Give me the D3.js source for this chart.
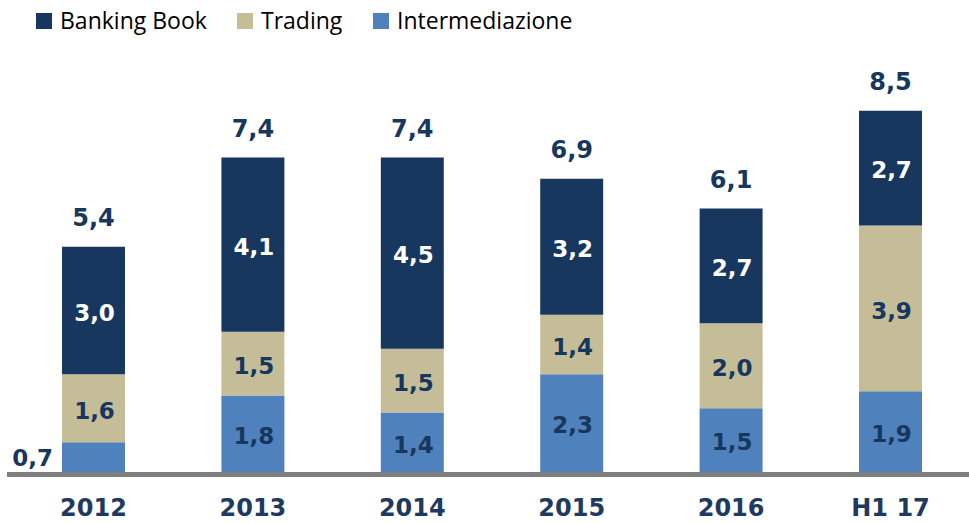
<!DOCTYPE html>
<html>
<head>
<meta charset="utf-8">
<script src="https://cdn.jsdelivr.net/npm/d3@7"></script>
<style>
  html, body { margin: 0; padding: 0; background: #fff; }
  svg { display: block; }
</style>
</head>
<body>
<svg id="chart" width="969" height="523"></svg>
<script>
// Revenue composition by year (stacked), values in the labels' units
const categories = ["2012", "2013", "2014", "2015", "2016", "H1 17"];
const intermediazione = [0.7, 1.8, 1.4, 2.3, 1.5, 1.9];
const trading = [1.6, 1.5, 1.5, 1.4, 2.0, 3.9];
const bankingBook = [3.0, 4.1, 4.5, 3.2, 2.7, 2.7];
const totals = [5.4, 7.4, 7.4, 6.9, 6.1, 8.5];

const seriesNames = ["Intermediazione", "Trading", "Banking Book"];
const seriesColors = { "Intermediazione": "#4F81BD", "Trading": "#C4BD97", "Banking Book": "#17375E" };
const labelColors = { "Intermediazione": "#17375E", "Trading": "#17375E", "Banking Book": "#FFFFFF" };
const legendOrder = ["Banking Book", "Trading", "Intermediazione"];

const fmt = v => d3.format(".1f")(v).replace(".", ",");

const rows = categories.map((c, i) => ({
  cat: c,
  "Intermediazione": intermediazione[i],
  "Trading": trading[i],
  "Banking Book": bankingBook[i],
  total: totals[i]
}));

const svg = d3.select("#chart");
const baseY = 472;

const x = d3.scaleBand()
  .domain(categories)
  .range([13.8, 970.2])
  .paddingInner(0.605)
  .paddingOuter(0.3025);

const y = d3.scaleLinear().domain([0, 10]).range([baseY, baseY - 425]);

const stacked = d3.stack().keys(seriesNames)(rows);

// Bars
const layers = svg.append("g").selectAll("g")
  .data(stacked)
  .join("g")
  .attr("fill", d => seriesColors[d.key]);

layers.selectAll("rect")
  .data(d => d.map(p => ({ key: d.key, p })))
  .join("rect")
  .attr("x", d => x(d.p.data.cat))
  .attr("width", x.bandwidth())
  .attr("y", d => y(d.p[1]))
  .attr("height", d => y(d.p[0]) - y(d.p[1]));

// Segment labels
const labelFont = "'DejaVu Sans', Verdana, sans-serif";
const segLabels = svg.append("g")
  .attr("font-family", labelFont)
  .attr("font-weight", "bold")
  .attr("font-size", 23);

stacked.forEach(layer => {
  layer.forEach(p => {
    const v = p.data[layer.key];
    const top = y(p[1]), bot = y(p[0]);
    const small = (bot - top) < 40;
    const t = segLabels.append("text")
      .text(fmt(v))
      .attr("fill", small ? "#17375E" : labelColors[layer.key])
      .attr("dy", "0.36em");
    if (small) {
      t.attr("x", x(p.data.cat) - 9)
        .attr("y", (top + bot) / 2 + 1)
        .attr("text-anchor", "end");
    } else {
      t.attr("x", x(p.data.cat) + x.bandwidth() / 2 + 1)
        .attr("y", (top + bot) / 2 + 2)
        .attr("text-anchor", "middle");
    }
  });
});

// Totals above bars
svg.append("g")
  .attr("font-family", labelFont)
  .attr("font-weight", "bold")
  .attr("font-size", 24)
  .attr("fill", "#17375E")
  .selectAll("text")
  .data(rows)
  .join("text")
  .attr("x", d => x(d.cat) + x.bandwidth() / 2)
  .attr("y", d => y(d["Intermediazione"] + d["Trading"] + d["Banking Book"]) - 21)
  .attr("text-anchor", "middle")
  .text(d => fmt(d.total));

// Baseline
svg.append("line")
  .attr("x1", 7).attr("x2", 969)
  .attr("y1", baseY + 2.5).attr("y2", baseY + 2.5)
  .attr("stroke", "#7F7F7F")
  .attr("stroke-width", 5);

// Category axis labels
const xAxis = d3.axisBottom(x).tickSize(0).tickPadding(0);
const axisG = svg.append("g")
  .attr("transform", `translate(0,${baseY})`)
  .call(xAxis);
axisG.select(".domain").remove();
axisG.selectAll("text")
  .attr("font-family", labelFont)
  .attr("font-weight", "bold")
  .attr("font-size", 24)
  .attr("fill", "#1F3A5F")
  .attr("dy", null)
  .attr("y", 44);

// Legend
const legendPos = { "Banking Book": 36, "Trading": 237, "Intermediazione": 373 };
const legend = svg.append("g")
  .attr("font-family", "'Open Sans', Lato, sans-serif")
  .attr("font-size", 23)
  .attr("fill", "#000");
legendOrder.forEach(name => {
  const lx = legendPos[name];
  legend.append("rect")
    .attr("x", lx).attr("y", 13)
    .attr("width", 16).attr("height", 16)
    .attr("fill", seriesColors[name]);
  legend.append("text")
    .attr("x", lx + 24).attr("y", 21)
    .attr("dy", "0.35em")
    .text(name);
});
</script>
</body>
</html>
